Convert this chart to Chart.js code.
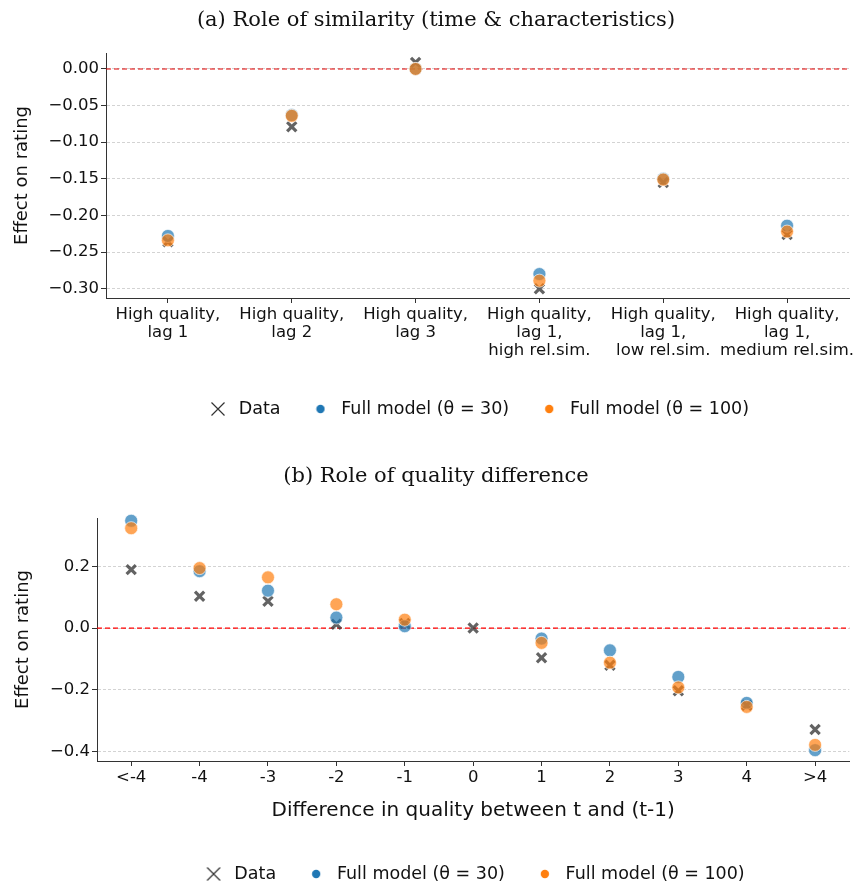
<!DOCTYPE html>
<html><head><meta charset="utf-8">
<script src="https://cdn.jsdelivr.net/npm/chart.js@4.4.1/dist/chart.umd.min.js"></script>
<style>
html,body{margin:0;padding:0;background:#fff;overflow:hidden;width:859px;height:889px}
#a{position:absolute;left:0;top:0;width:859px;height:445px}
#b{position:absolute;left:0;top:445px;width:859px;height:450px}
</style></head><body>
<div id="a"><canvas id="ca" width="859" height="445"></canvas></div>
<div id="b"><canvas id="cb" width="859" height="450"></canvas></div>
<script>
// ---- data ----
const simCategories = [['High quality,','lag 1'],['High quality,','lag 2'],['High quality,','lag 3'],['High quality,','lag 1,','high rel.sim.'],['High quality,','lag 1,','low rel.sim.'],['High quality,','lag 1,','medium rel.sim.']];
const simData     = [-0.236, -0.079, 0.009, -0.300, -0.155, -0.226];
const simModel30  = [-0.228, -0.063, 0.000, -0.280, -0.150, -0.214];
const simModel100 = [-0.234, -0.064, 0.000, -0.289, -0.151, -0.222];
const simTicks    = [0, -0.05, -0.10, -0.15, -0.20, -0.25, -0.30];

const qualCategories = ['<-4','-4','-3','-2','-1','0','1','2','3','4','>4'];
const qualData     = [0.189, 0.103, 0.087, 0.012, 0.015, 0.000, -0.096, -0.120, -0.203, -0.250, -0.328];
const qualModel30  = [0.347, 0.184, 0.121, 0.034, 0.006, null, -0.034, -0.072, -0.158, -0.242, -0.395];
const qualModel100 = [0.323, 0.194, 0.164, 0.077, 0.027, null, -0.048, -0.112, -0.192, -0.255, -0.378];
const qualTicks    = [0.2, 0.0, -0.2, -0.4];

const seriesNames = ['Data', 'Full model (θ = 30)', 'Full model (θ = 100)'];
const titles = ['(a) Role of similarity (time & characteristics)', '(b) Role of quality difference'];
const yTitle = 'Effect on rating';
const xTitleB = 'Difference in quality between t and (t-1)';

// ---- styling helpers ----
const SANS = "'DejaVu Sans', sans-serif";
const SERIF = "'DejaVu Serif', serif";
const TXT = '#111';

function legendIcon(kind, color) {
  const c = document.createElement('canvas');
  if (kind === 'x') {
    c.width = 16; c.height = 16;
    const g = c.getContext('2d');
    g.strokeStyle = color; g.lineWidth = 1.2;
    g.beginPath(); g.moveTo(1.5, 1.5); g.lineTo(14.5, 14.5); g.moveTo(14.5, 1.5); g.lineTo(1.5, 14.5); g.stroke();
  } else {
    c.width = 10; c.height = 10;
    const g = c.getContext('2d');
    g.fillStyle = color; g.beginPath(); g.arc(5, 5, 4.2, 0, Math.PI * 2); g.fill();
  }
  return c;
}
const icons = [legendIcon('x', '#333'), legendIcon('o', '#1f77b4'), legendIcon('o', '#ff7f0e')];

const zeroLine = {
  id: 'zeroLine',
  beforeDatasetsDraw(chart, args, opts) {
    const y = chart.scales.y.getPixelForValue(0);
    const {left, right} = chart.chartArea;
    const ctx = chart.ctx;
    ctx.save();
    ctx.strokeStyle = opts.color; ctx.lineWidth = opts.width; ctx.setLineDash(opts.dash);
    ctx.beginPath(); ctx.moveTo(left, y); ctx.lineTo(right, y); ctx.stroke();
    ctx.restore();
  }
};

function datasets(d, m30, m100) {
  const common = {showLine: false, clip: false};
  return [
    Object.assign({label: seriesNames[0], data: d, order: 3, pointStyle: 'crossRot', pointRadius: 6.5,
      pointBorderWidth: 3.2, pointBorderColor: 'rgba(60,60,60,0.8)', pointBackgroundColor: 'rgba(60,60,60,0.8)'}, common),
    Object.assign({label: seriesNames[1], data: m30, order: 2, pointStyle: 'circle', pointRadius: 6.5,
      pointBorderWidth: 0.8, pointBorderColor: 'rgba(255,255,255,0.8)', pointBackgroundColor: 'rgba(31,119,180,0.7)'}, common),
    Object.assign({label: seriesNames[2], data: m100, order: 1, pointStyle: 'circle', pointRadius: 6.5,
      pointBorderWidth: 0.8, pointBorderColor: 'rgba(255,255,255,0.8)', pointBackgroundColor: 'rgba(255,127,14,0.7)'}, common)
  ];
}

function makeChart(el, p) {
  return new Chart(el, {
    type: 'line',
    data: {labels: p.labels, datasets: datasets(p.d, p.m30, p.m100)},
    plugins: [zeroLine],
    options: {
      responsive: false, animation: false, events: [],
      layout: {padding: {left: p.padL, right: p.padR, top: 0, bottom: p.padB}},
      plugins: {
        tooltip: {enabled: false},
        zeroLine: {color: p.zeroColor, width: p.zeroWidth, dash: [5, 3]},
        title: {display: true, text: p.title, color: TXT, font: {family: SERIF, size: 21, weight: 'normal', lineHeight: 1.2},
          padding: {top: p.titleTop, bottom: p.titleBottom}},
        legend: {
          display: true, position: 'bottom', fullSize: false,
          labels: {
            usePointStyle: true, pointStyleWidth: 24, padding: 28, color: TXT,
            font: {family: SANS, size: 17.5},
            generateLabels: chart => chart.data.datasets.map((ds, i) => ({
              text: ds.label, pointStyle: icons[i], datasetIndex: i, hidden: false,
              fillStyle: 'transparent', strokeStyle: 'transparent', lineWidth: 0, fontColor: TXT
            }))
          }
        }
      },
      scales: {
        x: {
          type: 'category', offset: true,
          ticks: {font: {family: SANS, size: p.tickSize, lineHeight: 1.12}, color: TXT, padding: 2, maxRotation: 0, autoSkip: false},
          grid: {drawOnChartArea: false, drawTicks: true, tickLength: 5, color: '#333', tickColor: '#333', tickWidth: 1},
          border: {display: true, color: '#333', width: 1},
          title: p.xTitle ? {display: true, text: p.xTitle, color: TXT, font: {family: SANS, size: 20}, padding: {top: 0, bottom: p.xTitlePad}} : {display: false},
          afterFit: s => { s.height = p.xH; }
        },
        y: {
          min: p.yMin, max: p.yMax,
          afterBuildTicks: s => { s.ticks = p.ticks.map(v => ({value: v})); },
          ticks: {font: {family: SANS, size: p.tickSize}, color: TXT, padding: 2,
            callback: v => (v < -1e-9 ? '\u2212' : '') + Math.abs(v).toFixed(p.dec)},
          grid: {color: '#c8c8c8', lineWidth: 0.8, tickLength: 5, tickColor: '#333', tickWidth: 1, tickBorderDash: []},
          border: {display: true, color: '#333', width: 1, dash: [3, 2]},
          title: {display: true, text: yTitle, color: TXT, font: {family: SANS, size: 18}, padding: {top: p.yTitlePad, bottom: 0}},
          afterFit: s => { s.width = p.yW; }
        }
      }
    }
  });
}

makeChart(document.getElementById('ca'), {
  labels: simCategories, d: simData, m30: simModel30, m100: simModel100, ticks: simTicks, dec: 2,
  yMin: -0.3127, yMax: 0.0218, title: titles[0], titleTop: 8, titleBottom: 19.8,
  padL: 23, padR: 10, padB: 17.25, xH: 74.25, yW: 83, yTitlePad: -11.3, tickSize: 16.5,
  zeroColor: '#e00000', zeroWidth: 1.1, xTitle: null, xTitlePad: 0
});
makeChart(document.getElementById('cb'), {
  labels: qualCategories, d: qualData, m30: qualModel30, m100: qualModel100, ticks: qualTicks, dec: 1,
  yMin: -0.430, yMax: 0.356, title: titles[1], titleTop: 19, titleBottom: 28.8,
  padL: 14, padR: 1, padB: 2.25, xH: 76.25, yW: 83, yTitlePad: -1.8, tickSize: 16.5,
  zeroColor: '#ff0000', zeroWidth: 1.3, xTitle: xTitleB, xTitlePad: 14.25
});
</script>
</body></html>
